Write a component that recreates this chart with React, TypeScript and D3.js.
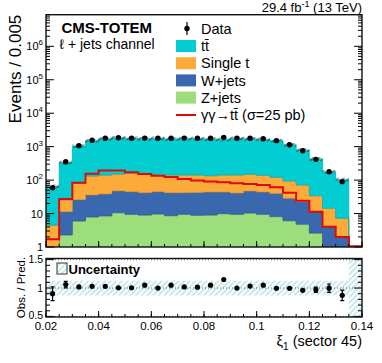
import React, { useEffect, useRef } from "react";
import * as d3 from "d3";

// bin low edges in xi_1, every bin is 0.005 wide
const binLow = [
  0.02, 0.025, 0.03, 0.035, 0.04, 0.045, 0.05, 0.055, 0.06, 0.065, 0.07, 0.075,
  0.08, 0.085, 0.09, 0.095, 0.1, 0.105, 0.11, 0.115, 0.12, 0.125, 0.13, 0.135,
];
const binWidth = 0.005;

const dataCounts = [
  59, 355, 1070, 1550, 1780, 1850, 1780, 1800, 1780, 1780, 1800, 1780, 1780,
  1900, 1780, 1780, 1730, 1510, 1140, 757, 418, 178, 90, null,
];
const dataErr = [
  8, 19, 33, 39, 42, 43, 42, 42, 42, 42, 42, 42, 42, 44, 42, 42, 42, 39, 34,
  28, 20, 13, 9.5, 0,
];

const zjets = [
  0.3, 2.3, 6.0, 7.9, 8.5, 10.6, 9.5, 9.0, 9.7, 8.6, 9.5, 8.9, 9.0, 9.9, 9.5,
  10.4, 9.5, 8.1, 6.1, 4.8, 2.6, 0.4, 0.3, 0,
];
const wjets = [
  0.5, 9.1, 20, 28, 30, 37, 35.5, 33, 35.3, 33.4, 32.5, 34, 35, 34, 31.5, 36.6,
  34.5, 32, 22.4, 17.8, 8.8, 3.8, 1.7, 0,
];
const singleT = [
  3.7, 14.3, 54, 97, 103, 104, 115, 110, 104, 100, 100, 99, 91, 98, 101, 102,
  95, 81, 65.5, 48.4, 22.6, 10.2, 5.2, 0,
];
const ttbar = [
  61, 309, 969, 1372, 1586, 1689, 1611, 1562, 1631, 1553, 1623, 1612, 1560,
  1510, 1638, 1571, 1509, 1397, 1052, 718, 397, 164, 96, 0,
];
const signal = [
  1.7, 27, 83, 156, 193, 193, 172, 152, 135, 124, 107, 97, 91, 86, 81, 76, 71,
  61, 42, 24, 11.4, 4.0, 2.0, 1.06,
];
// relative uncertainty of the prediction
const relUnc = [
  0.13, 0.13, 0.13, 0.13, 0.13, 0.13, 0.13, 0.13, 0.13, 0.13, 0.13, 0.13, 0.13,
  0.13, 0.13, 0.13, 0.13, 0.13, 0.13, 0.13, 0.13, 0.13, 0.13, 0.13,
];

const xMajor = [0.02, 0.04, 0.06, 0.08, 0.1, 0.12, 0.14];
const xMajorLabels = ["0.02", "0.04", "0.06", "0.08", "0.1", "0.12", "0.14"];
const yDecades = [0, 1, 2, 3, 4, 5, 6];
const ratioMajor = [0.5, 1, 1.5];
const ratioLabels = ["0.5", "1", "1.5"];

const stackKeys = ["zjets", "wjets", "singlet", "ttbar"];
const legendLabels = ["t\u0074\u0304", "Single t", "W+jets", "Z+jets"];

const font = "'Liberation Sans', Arial, Helvetica, sans-serif";

function App() {
  const ref = useRef<SVGSVGElement>(null);

  let dims = {
    left: 46,
    right: 362,
    top: 14.7,
    bottom: 247,
    rTop: 258.5,
    rBottom: 317,
  };

  let colors: any = {
    ttbar: "#04cdd1",
    singlet: "#fcab3a",
    wjets: "#3a68ae",
    zjets: "#9cdd7c",
  };
  let signalColor = "#dd0a0a";

  useEffect(() => {
    const svg = d3.select(ref.current);
    svg.selectAll("*").remove();

    let x = d3.scaleLinear().domain([0.02, 0.14]).range([dims.left, dims.right]);
    let y = d3
      .scaleLog()
      .domain([1, Math.pow(10, 6.945)])
      .range([dims.bottom, dims.top])
      .clamp(true);
    let yr = d3
      .scaleLinear()
      .domain([0.49, 1.52])
      .range([dims.rBottom, dims.rTop])
      .clamp(true);
    const ly = (v: number) => y(Math.max(v, 1e-3));

    const defs = svg.append("defs");
    defs
      .append("clipPath")
      .attr("id", "mainClip")
      .append("rect")
      .attr("x", dims.left)
      .attr("y", dims.top)
      .attr("width", dims.right - dims.left)
      .attr("height", dims.bottom - dims.top);
    defs
      .append("clipPath")
      .attr("id", "ratioClip")
      .append("rect")
      .attr("x", dims.left)
      .attr("y", dims.rTop)
      .attr("width", dims.right - dims.left)
      .attr("height", dims.rBottom - dims.rTop);

    const hatch = (id: string, color: string, width: number) => {
      const p = defs
        .append("pattern")
        .attr("id", id)
        .attr("patternUnits", "userSpaceOnUse")
        .attr("width", 4)
        .attr("height", 4)
        .attr("patternTransform", "rotate(45)");
      p.append("line")
        .attr("x1", 1)
        .attr("y1", 0)
        .attr("x2", 1)
        .attr("y2", 4)
        .attr("stroke", color)
        .attr("stroke-width", width);
    };
    hatch("hatchDark", "#2a2a2a", 0.9);
    hatch("hatchLight", "#8fd3d3", 1);

    svg.append("rect").attr("width", 382).attr("height", 363).attr("fill", "#fff");

    // ---- stacked backgrounds
    const rows = binLow.map((lo, i) => ({
      lo: lo,
      zjets: zjets[i],
      wjets: wjets[i],
      singlet: singleT[i],
      ttbar: ttbar[i],
    }));
    const series = d3.stack<any>().keys(stackKeys)(rows);
    const totals = rows.map((r) => r.zjets + r.wjets + r.singlet + r.ttbar);

    const main = svg.append("g").attr("clip-path", "url(#mainClip)");

    const area = d3
      .area<any>()
      .x((d) => x(d.x))
      .y0((d) => ly(d.y0))
      .y1((d) => ly(d.y1));

    series.forEach((s) => {
      const pts: any[] = [];
      s.forEach((d: any, i: number) => {
        pts.push({ x: binLow[i], y0: d[0], y1: d[1] });
        pts.push({ x: binLow[i] + binWidth, y0: d[0], y1: d[1] });
      });
      const c = colors[s.key];
      main
        .append("path")
        .attr("d", area(pts))
        .attr("fill", c)
        .attr("stroke", d3.color(c)!.darker(0.5).toString())
        .attr("stroke-width", 0.7);
    });

    // uncertainty band on the total
    const band: any[] = [];
    totals.forEach((t, i) => {
      band.push({ x: binLow[i], y0: t * (1 - relUnc[i]), y1: t * (1 + relUnc[i]), ok: t > 0 });
      band.push({ x: binLow[i] + binWidth, y0: t * (1 - relUnc[i]), y1: t * (1 + relUnc[i]), ok: t > 0 });
    });
    main
      .append("path")
      .attr("d", area.defined((d: any) => d.ok)(band))
      .attr("fill", "url(#hatchDark)");

    // signal outline
    const sigPts: [number, number][] = [[binLow[0], 0.001]];
    signal.forEach((v, i) => {
      sigPts.push([binLow[i], v]);
      sigPts.push([binLow[i] + binWidth, v]);
    });
    sigPts.push([binLow[binLow.length - 1] + binWidth, 0.001]);
    main
      .append("path")
      .attr(
        "d",
        d3
          .line()
          .x((d) => x(d[0]))
          .y((d) => ly(d[1]))(sigPts)
      )
      .attr("fill", "none")
      .attr("stroke", signalColor)
      .attr("stroke-width", 2);

    // data points
    dataCounts.forEach((v, i) => {
      if (v == null) return;
      const cx = x(binLow[i] + binWidth / 2);
      main
        .append("line")
        .attr("x1", cx)
        .attr("x2", cx)
        .attr("y1", ly(v - dataErr[i]))
        .attr("y2", ly(v + dataErr[i]))
        .attr("stroke", "#000")
        .attr("stroke-width", 1.2);
      main.append("circle").attr("cx", cx).attr("cy", ly(v)).attr("r", 2.7).attr("fill", "#000");
    });

    // ---- ratio panel
    const ratio = svg.append("g").attr("clip-path", "url(#ratioClip)");
    const rBand: any[] = [];
    totals.forEach((t, i) => {
      const lo = t > 0 ? 1 - relUnc[i] : 0.49;
      const hi = t > 0 ? 1 + relUnc[i] : 1.52;
      rBand.push({ x: binLow[i], y0: lo, y1: hi });
      rBand.push({ x: binLow[i] + binWidth, y0: lo, y1: hi });
    });
    ratio
      .append("path")
      .attr(
        "d",
        d3
          .area<any>()
          .x((d) => x(d.x))
          .y0((d) => yr(d.y0))
          .y1((d) => yr(d.y1))(rBand)
      )
      .attr("fill", "url(#hatchLight)");

    [0.5, 1, 1.5].forEach((v) => {
      ratio
        .append("line")
        .attr("x1", dims.left)
        .attr("x2", dims.right)
        .attr("y1", yr(v))
        .attr("y2", yr(v))
        .attr("stroke", "#444")
        .attr("stroke-width", 0.8)
        .attr("stroke-dasharray", "1,2");
    });

    dataCounts.forEach((v, i) => {
      if (v == null || totals[i] <= 0) return;
      const cx = x(binLow[i] + binWidth / 2);
      const r = v / totals[i];
      const e = dataErr[i] / totals[i];
      ratio
        .append("line")
        .attr("x1", cx)
        .attr("x2", cx)
        .attr("y1", yr(r - e))
        .attr("y2", yr(r + e))
        .attr("stroke", "#000")
        .attr("stroke-width", 1.2);
      if (e > 0.04) {
        [r - e, r + e].forEach((yy) => {
          ratio
            .append("line")
            .attr("x1", cx - 2)
            .attr("x2", cx + 2)
            .attr("y1", yr(yy))
            .attr("y2", yr(yy))
            .attr("stroke", "#000")
            .attr("stroke-width", 1.2);
        });
      }
      ratio.append("circle").attr("cx", cx).attr("cy", yr(r)).attr("r", 2.6).attr("fill", "#000");
    });

    // ---- frames and ticks
    const axisG = svg.append("g").attr("stroke", "#000").attr("stroke-width", 1);
    [
      [dims.top, dims.bottom],
      [dims.rTop, dims.rBottom],
    ].forEach(([t, b]) => {
      svg
        .append("rect")
        .attr("x", dims.left)
        .attr("y", t)
        .attr("width", dims.right - dims.left)
        .attr("height", b - t)
        .attr("fill", "none")
        .attr("stroke", "#111")
        .attr("stroke-width", 1.4);
    });

    const tick = (x1: number, y1: number, x2: number, y2: number) =>
      axisG.append("line").attr("x1", x1).attr("y1", y1).attr("x2", x2).attr("y2", y2);

    const minorX = binLow.concat([0.14]);
    [dims.bottom, dims.rBottom].forEach((b) => {
      minorX.forEach((v) => tick(x(v), b, x(v), b - 3));
      xMajor.forEach((v) => tick(x(v), b, x(v), b - 6));
    });

    y.ticks().forEach((v) => {
      const isMajor = Math.abs(Math.log10(v) - Math.round(Math.log10(v))) < 1e-6;
      const len = isMajor ? 8 : 4;
      tick(dims.left, y(v), dims.left + len, y(v));
      tick(dims.right, y(v), dims.right - len, y(v));
    });

    yr.ticks(10).forEach((v) => {
      if (v < 0.5 || v > 1.5) return;
      const isMajor = ratioMajor.some((m) => Math.abs(m - v) < 1e-6);
      const len = isMajor ? 8 : 4;
      tick(dims.left, yr(v), dims.left + len, yr(v));
      tick(dims.right, yr(v), dims.right - len, yr(v));
    });

    // ---- labels
    const txt = (xx: number, yy: number, size: number, anchor = "start", weight = "normal") =>
      svg
        .append("text")
        .attr("x", xx)
        .attr("y", yy)
        .attr("font-family", font)
        .attr("font-size", size)
        .attr("font-weight", weight)
        .attr("text-anchor", anchor)
        .attr("fill", "#000");

    yDecades.forEach((k) => {
      const t = txt(43, y(Math.pow(10, k)) + 4, 11, "end");
      if (k === 0) t.text("1");
      else if (k === 1) t.text("10");
      else {
        t.append("tspan").text("10");
        t.append("tspan").attr("dy", -5).attr("font-size", 8).text(String(k));
      }
    });

    ratioMajor.forEach((v, i) => {
      txt(43, yr(v) + (v === 0.5 ? 2.8 : 3.8), 10.5, "end").text(ratioLabels[i]);
    });

    xMajor.forEach((v, i) => {
      txt(x(v), 330, 11.5, "middle").text(xMajorLabels[i]);
    });

    const xt = txt(362, 346, 14.5, "end");
    xt.append("tspan").text("\u03be");
    xt.append("tspan").attr("dy", 4).attr("font-size", 10).text("1");
    xt.append("tspan").attr("dy", -4).text(" (sector 45)");

    svg
      .append("text")
      .attr("transform", "translate(20.5," + dims.top + ") rotate(-90)")
      .attr("text-anchor", "end")
      .attr("font-family", font)
      .attr("font-size", 17)
      .text("Events / 0.005");

    svg
      .append("text")
      .attr("transform", "translate(25,287.5) rotate(-90)")
      .attr("text-anchor", "middle")
      .attr("font-family", font)
      .attr("font-size", 11.5)
      .text("Obs. / Pred.");

    const lumi = txt(362, 12, 13, "end");
    lumi.append("tspan").text("29.4 fb");
    lumi.append("tspan").attr("dy", -5).attr("font-size", 9).text("-1");
    lumi.append("tspan").attr("dy", 5).text(" (13 TeV)");

    txt(61.5, 33, 15, "start", "bold").text("CMS-TOTEM");
    txt(59.5, 48.5, 14).text("\u2113 + jets channel");

    // ---- legend
    svg.append("line").attr("x1", 187).attr("x2", 187).attr("y1", 22).attr("y2", 35).attr("stroke", "#000").attr("stroke-width", 1.2);
    svg.append("circle").attr("cx", 187).attr("cy", 28.5).attr("r", 2.7).attr("fill", "#000");
    txt(201, 33.5, 14.5).text("Data");

    const legendKeys = ["ttbar", "singlet", "wjets", "zjets"];
    legendKeys.forEach((k, i) => {
      const cy = 46 + i * 17.2;
      svg
        .append("rect")
        .attr("x", 176)
        .attr("y", cy - 6)
        .attr("width", 20)
        .attr("height", 12)
        .attr("fill", colors[k]);
      txt(201, cy + 5.2, 14.5).text(legendLabels[i]);
    });
    svg
      .append("line")
      .attr("x1", 176)
      .attr("x2", 196)
      .attr("y1", 115)
      .attr("y2", 115)
      .attr("stroke", signalColor)
      .attr("stroke-width", 2);
    txt(201, 120, 14.5).text("\u03b3\u03b3\u2192t\u0074\u0304 (\u03c3=25 pb)");

    // ratio legend
    svg
      .append("rect")
      .attr("x", 57)
      .attr("y", 263)
      .attr("width", 10)
      .attr("height", 11)
      .attr("fill", "url(#hatchLight)")
      .attr("stroke", "#333")
      .attr("stroke-width", 1);
    txt(68.5, 274, 13, "start", "bold").text("Uncertainty");
  }, []);

  return (
    <svg
      ref={ref}
      width={382}
      height={363}
      style={{ position: "absolute", left: 0, top: 0, display: "block" }}
    />
  );
}

export default App;
